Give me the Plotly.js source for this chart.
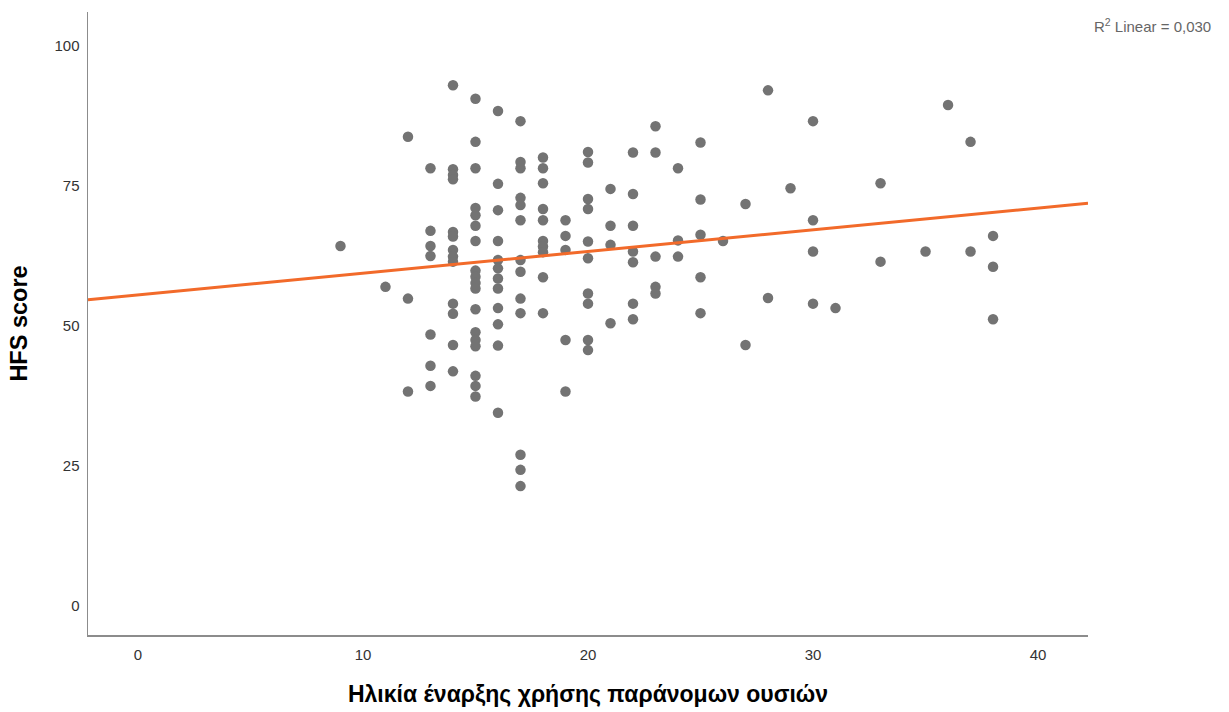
<!DOCTYPE html>
<html>
<head>
<meta charset="utf-8">
<script src="https://cdn.plot.ly/plotly-3.0.1.min.js"></script>
<style>html,body{margin:0;padding:0;background:#fff;}#chart{width:1229px;height:712px;}</style>
</head>
<body>
<div id="chart"></div>
<script>
// Age at onset of illegal substance use (x) and HFS score (y)
const onsetAge = [
  9,
  11,
  12,12,12,
  13,13,13,13,13,13,13,
  14,14,14,14,14,14,14,14,14,14,14,14,14,
  15,15,15,15,15,15,15,15,15,15,15,15,15,15,15,15,15,15,
  16,16,16,16,16,16,16,16,16,16,16,16,
  17,17,17,17,17,17,17,17,17,17,17,17,17,
  18,18,18,18,18,18,18,18,18,18,
  19,19,19,19,19,
  20,20,20,20,20,20,20,20,20,20,
  21,21,21,21,
  22,22,22,22,22,22,22,
  23,23,23,23,23,
  24,24,24,
  25,25,25,25,25,
  26,
  27,27,
  28,28,
  29,
  30,30,30,30,
  31,
  33,33,
  35,
  36,
  37,37,
  38,38,38
];
const hfsScore = [
  64.3,
  57.0,
  83.8,54.9,38.3,
  78.2,67.0,64.3,62.5,48.5,42.9,39.3,
  93.0,78.0,77.0,76.2,66.8,66.0,63.6,62.4,61.5,54.0,52.2,46.6,41.9,
  90.6,82.9,78.2,71.1,69.8,67.9,65.2,59.9,58.8,57.7,56.7,53.0,48.9,47.5,46.4,41.1,39.3,37.4,
  88.4,75.4,70.7,65.2,61.8,60.3,58.5,56.7,53.2,50.3,46.5,34.5,
  86.6,79.3,78.2,72.9,71.6,68.9,61.8,59.7,54.9,52.3,27.0,24.3,21.4,
  80.1,78.2,75.5,70.9,68.9,65.2,64.2,63.2,58.7,52.3,
  68.9,66.1,63.6,47.5,38.3,
  81.1,79.2,72.7,70.9,65.1,62.1,55.8,54.0,47.5,45.7,
  74.5,67.9,64.5,50.5,
  81.0,73.6,67.9,63.3,61.4,54.0,51.2,
  85.7,81.0,62.4,57.0,55.8,
  78.2,65.3,62.4,
  82.8,72.6,66.3,58.7,52.3,
  65.2,
  71.8,46.6,
  92.1,55.0,
  74.6,
  86.6,68.9,63.3,54.0,
  53.2,
  75.5,61.5,
  63.3,
  89.5,
  82.9,63.3,
  66.1,60.6,51.2
];

// Fit line and axis ranges
const fitIntercept = 55.56;
const fitSlope = 0.388;
const xRange = [-2.22, 42.22];
const yRange = [-5.2, 106.1];
const xTicks = [0, 10, 20, 30, 40];
const yTicks = [0, 25, 50, 75, 100];
const r2Label = "R<sup>2</sup> Linear = 0,030";
const xTitle = "Ηλικία έναρξης χρήσης παράνομων ουσιών";
const yTitle = "HFS score";

const fitX = xRange.slice();
const fitY = fitX.map(v => fitIntercept + fitSlope * v);

const FONT = "Liberation Sans, Arial, sans-serif";

const traces = [
  {
    type: "scatter", mode: "markers",
    x: onsetAge, y: hfsScore,
    marker: {color: "#737373", size: 10.5, line: {width: 0}},
    hoverinfo: "x+y", showlegend: false
  },
  {
    type: "scatter", mode: "lines",
    x: fitX, y: fitY,
    line: {color: "#F26A2A", width: 3},
    hoverinfo: "skip", showlegend: false
  }
];

const layout = {
  width: 1229, height: 712,
  margin: {l: 88, r: 141, t: 12, b: 77},
  paper_bgcolor: "#ffffff", plot_bgcolor: "#ffffff",
  font: {family: FONT, color: "#333333", size: 15},
  showlegend: false,
  xaxis: {
    range: xRange, tickvals: xTicks, ticktext: xTicks.map(String),
    showgrid: false, zeroline: false, showline: true,
    linecolor: "#8c8c8c", linewidth: 1.5, ticks: "",
    tickfont: {size: 15, color: "#333333", family: FONT},
    ticklabelstandoff: 5,
    title: {text: xTitle, font: {size: 23, color: "#000000", family: FONT, weight: "bold"}, standoff: 24},
    automargin: false
  },
  yaxis: {
    range: yRange, tickvals: yTicks, ticktext: yTicks.map(String),
    showgrid: false, zeroline: false, showline: true,
    linecolor: "#8c8c8c", linewidth: 1.5, ticks: "",
    tickfont: {size: 15, color: "#333333", family: FONT},
    ticklabelstandoff: 4,
    title: {text: yTitle, font: {size: 23.5, color: "#000000", family: FONT, weight: "bold"}, standoff: 20},
    automargin: false
  },
  annotations: [{
    xref: "paper", yref: "paper", x: 1.125, y: 0.979,
    xanchor: "right", yanchor: "middle", showarrow: false,
    text: r2Label, font: {size: 15, color: "#666666", family: FONT}
  }]
};

Plotly.newPlot("chart", traces, layout, {staticPlot: true, displayModeBar: false});
</script>
</body>
</html>
